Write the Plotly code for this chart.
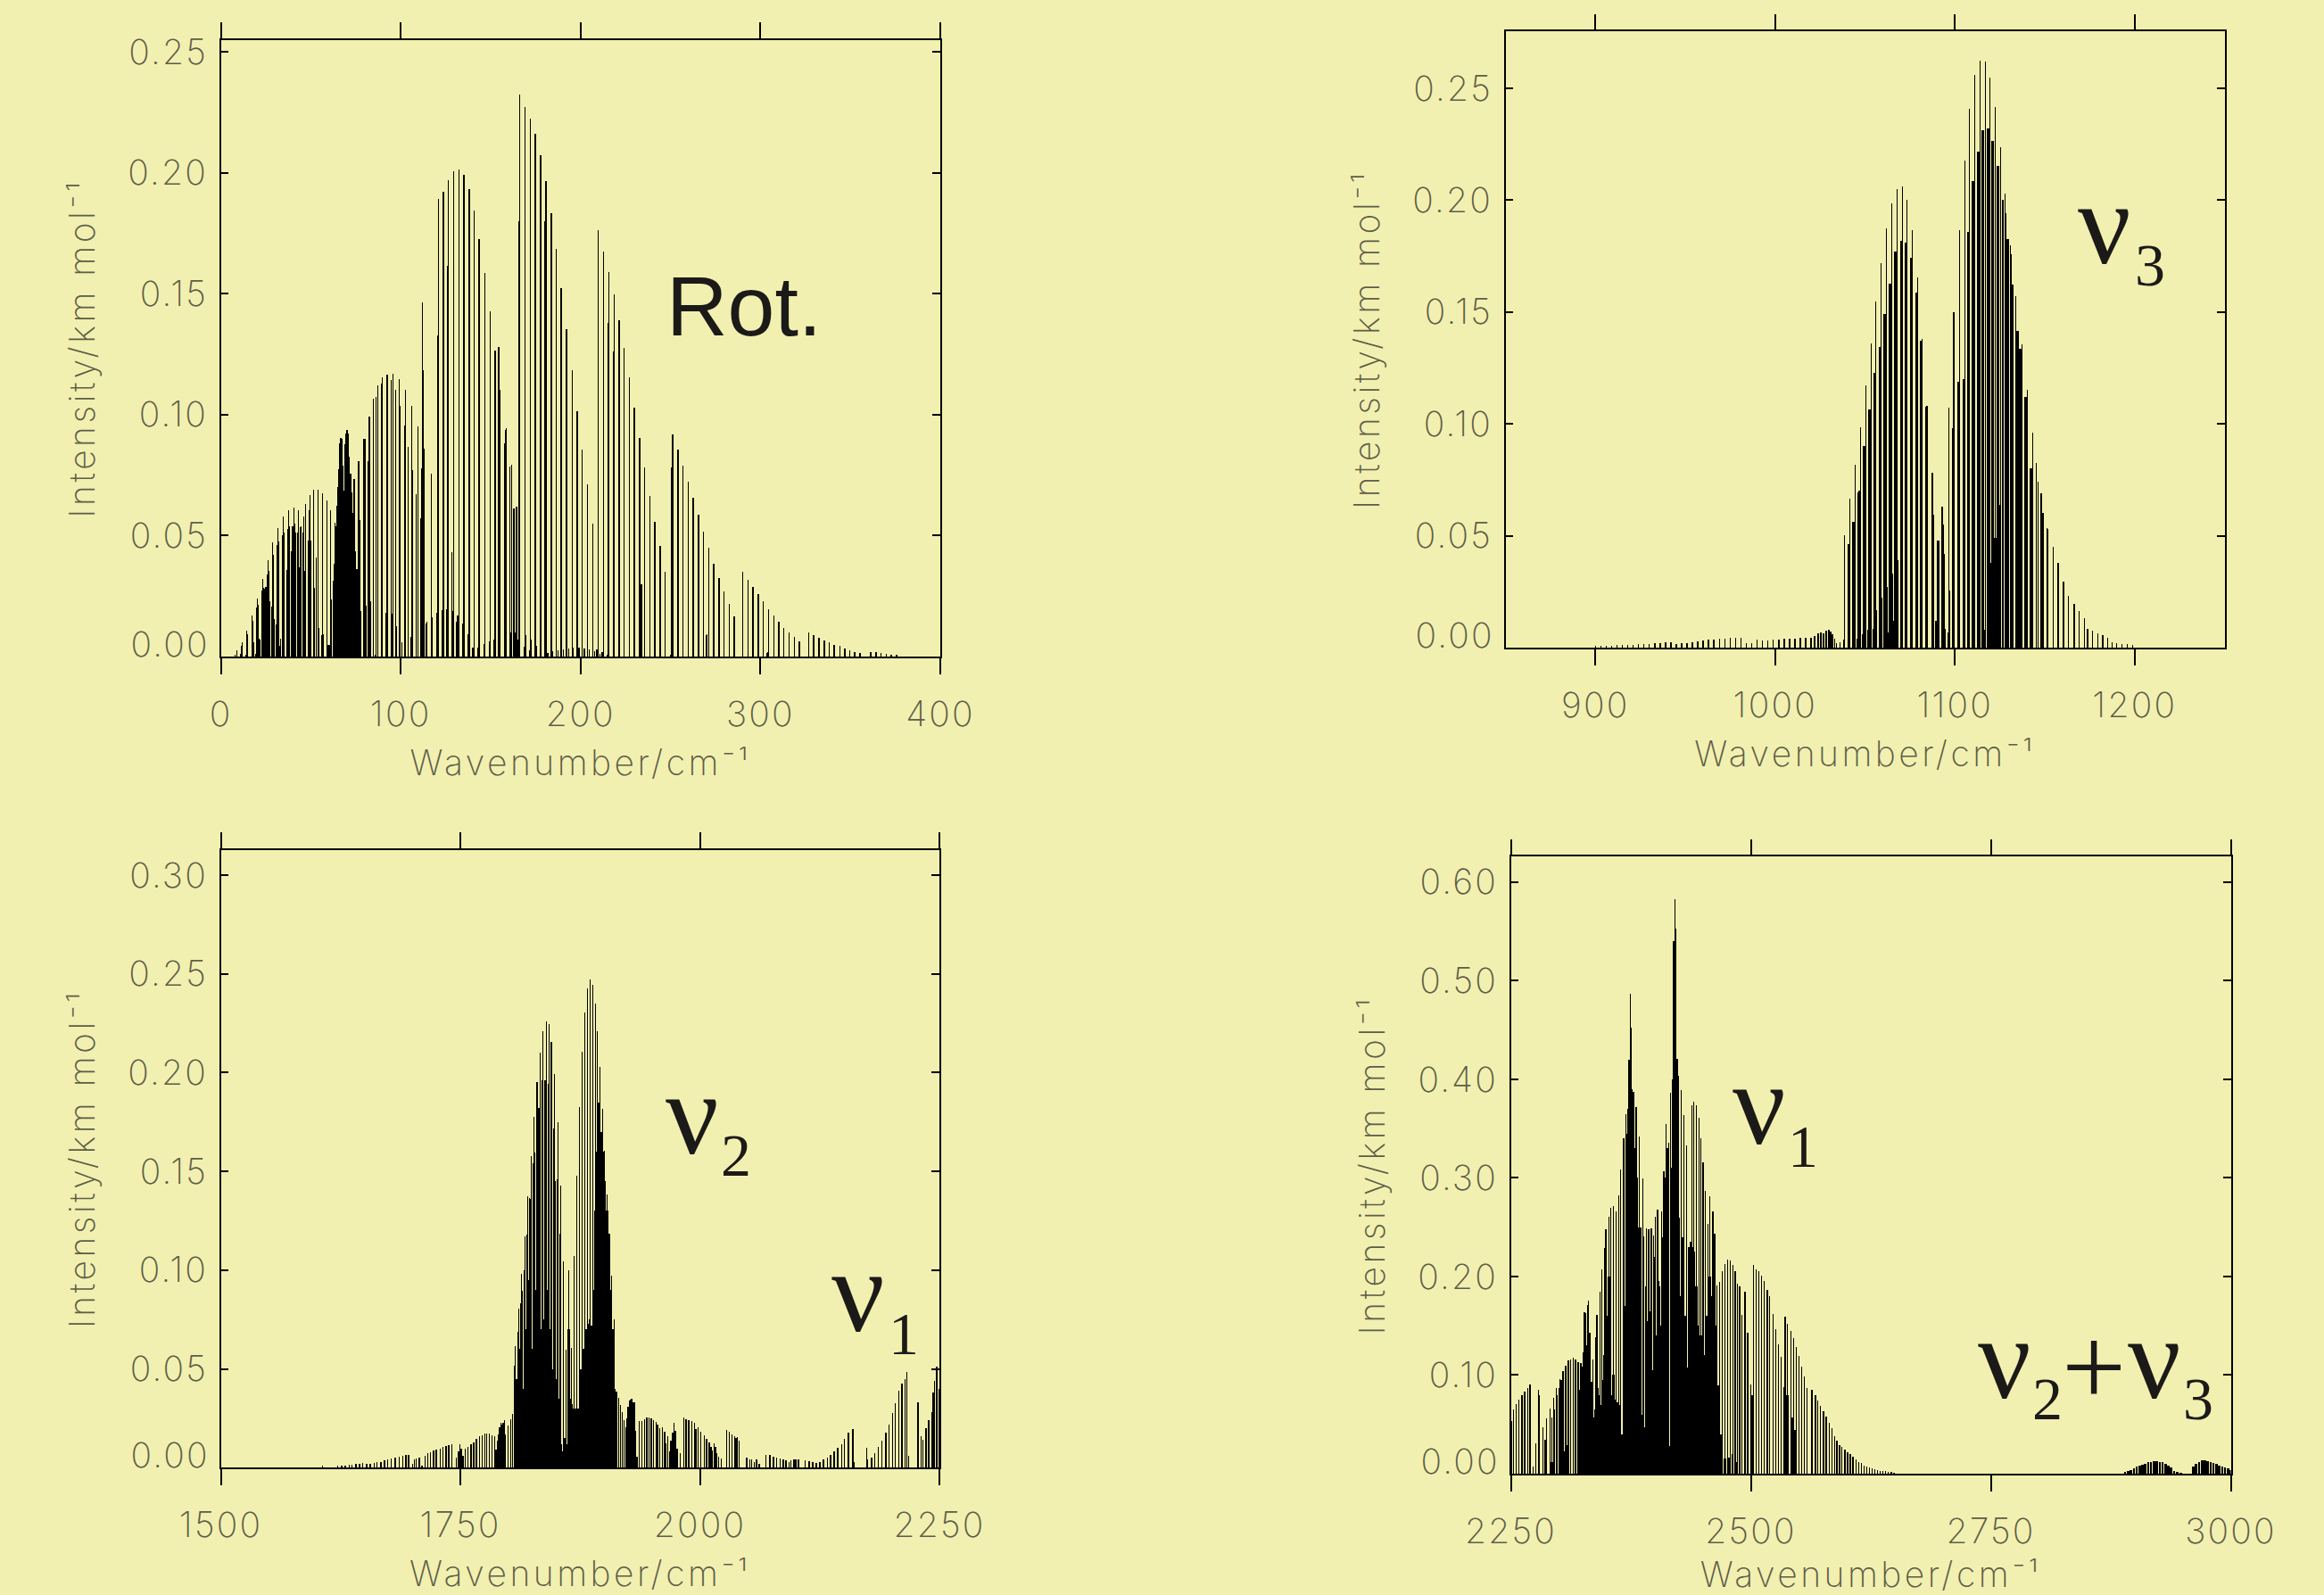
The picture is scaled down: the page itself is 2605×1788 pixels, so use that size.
import plotly.graph_objects as go

W, H = 2605, 1788
BG = "#f2f0b0"
INK = "#000000"
LABEL = "#5e5e48"
AXFAMILY = "Inter"
AXWEIGHT = 200

# ---------- Rotational band: (wavenumber, intensity) ----------
rot_low = [(7.9,.0009),(8.9,.0024),(10.9,.0012),(11.4,.0046),(11.9,.0058),(13.9,.0009),(14.4,.0107),(14.9,.0092),
 (17.3,.0168),(17.8,.0147),(18.3,.0058),(19.3,.0012),(19.8,.0202),(20.3,.0239),(20.8,.0214),(21.3,.0073),(21.8,.007),
 (22.8,.0273),(23.3,.0322),(23.8,.0285),(24.3,.028),(24.8,.0289),(25.3,.0289),(25.8,.0341),(26.3,.0398),(26.8,.0354),(27.3,.0227),
 (28.3,.0207),(28.7,.0472),(29.2,.0421),(29.7,.0155),(30.7,.0132),(31.2,.0462),(31.7,.053),(32.2,.0476),(32.7,.0043),(33.2,.0073),
 (34.2,.0502),(34.7,.0579),(35.2,.0514),(36.7,.0357),(37.2,.0528),(37.7,.0605),(38.2,.054),(39.2,.0435),(39.8,.0539),(40.3,.011),
 (40.6,.0617),(41.1,.0548),(41.6,.0513),(42.6,.0514),(43.1,.0605),(43.6,.037),(44.1,.0536),(44.6,.054),(45.6,.0513),(46.1,.0579),
 (46.6,.0354),(47.1,.0629),(48.6,.0479),(49.1,.0605),(49.6,.0667),(50.1,.0479),(51.5,.069),(52,.0283),(53,.041),(54,.069),(54.5,.0119),
 (56,.0089),(56.5,.0675),(56.8,.0092),(59,.0646),(59.5,.0049),(60,.0049),(60.5,.0049),(61,.0605),(61.5,.0236)]
rot_block = [(62.6,.0314),(63.1,.0384),(63.6,.0553),(64.1,.054),(64.6,.0622),(65.1,.0701),(65.6,.0775),(66.1,.0882),(66.6,.0905),
 (67.1,.09),(67.6,.079),(68.1,.0683),(68.6,.0686),(69.1,.0877),(69.6,.0923),(70.1,.0937),(70.6,.0923),(71.1,.0827),(71.6,.0132),
 (72.1,.0755),(72.6,.0678),(73.1,.0594),(73.6,.0479),(74.1,.0735),(74.6,.0435),(75.1,.0162),(75.6,.0361),(76.1,.0276),(76.7,.0808),
 (77.0,.0566),(77.3,.0187),(77.8,.0187)]
rot_mid = [(79.5,.09),(80,.09),(80.5,.021),(80.9,.021),(82.1,.0808),(82.6,.0992),(83.1,.0227),(84.8,.1066),(85.7,.0009),(86.2,.1072),
 (87.2,.1122),(89.2,.113),(89.7,.1156),(91.7,.0181),(92.3,.1164),(92.8,.1164),(94.8,.1142),(95.3,.0176),(95.7,.117),(97.1,.1102),
 (97.6,.0126),(99.1,.1148),(99.6,.1038),(100.6,.0058),(102.1,.0954),(102.6,.1102),(104.1,.0868),(105.6,.0081),(106.1,.1038),
 (106.6,.0772),(108.5,.0671),(109.5,.0952),(111,.0571),(111.5,.0778),(112,.1464),(112.5,.1184),(113,.086),(114.2,.0135),(114.5,.0142),
 (117,.0755),(117.5,.0162),(119.9,.0181),(120.6,.1329)]
rot_tall_a = [(121.1,.1892),(123.0,.0191),(123.4,.149),(123.7,.1921),(125.7,.0196),(126.2,.1615),(126.5,.1969),(128.5,.0433),(128.9,.0188),
 (129.4,.2006),(131.3,.0145),(131.8,.017),(132.3,.2012),(134.5,.0135),(135.1,.199),(137.3,.0092),(137.8,.0092),(138.1,.1931),(140.1,.0038),
 (140.9,.1842),(143.1,.0038),(143.7,.1724),(146.2,.0051),(146.7,.1585),(149.2,.0063),(149.7,.1428),(151.8,.0069),(152.5,.1265),
 (154.6,.128),(155,.1102),(157.6,.0882),(158.1,.0938),(158.6,.0945),(160.7,.0785),(160.9,.0101),(161.6,.0793),(163,.0612),(163.6,.0101),
 (164.5,.062),(165.5,.0069)]
rot_tall_b = [(166.0,.18),(166.2,.2324),(168.7,.004),(169.2,.227),(169.3,.0089),(171.6,.0024),(172.1,.2223),(172.5,.0069),(174.6,.0017),
 (174.9,.2159),(175.3,.0043),(177.8,.0028),(177.9,.2073),(180.4,.18),(180.7,.1966),(181.7,.0015),(183.5,.165),(183.7,.1834),(184.5,.0021),(186.5,.1686),
 (187.5,.0026),(189.3,.1523),(190.5,.0028),(192.3,.1352),(193.5,.0032),(195.3,.1183),(195.4,.0735),(195.9,.0037),(198.1,.1015),(198.2,.0031),
 (199.2,.0037),(200.9,.0857),(202,.0032),(203.9,.0712),(204.9,.0028),(206.7,.055),(207.8,.0023),(209.1,.0031)]
rot_tall_c = [(209.8,.1761),(210.8,.0012),(212.1,.002),(212.8,.1675),(215.1,.0009),(215.5,.138),(215.8,.1588),(218.3,.126),(218.6,.1496),(221.2,.112),(221.4,.139),
 (224.3,.1275),(227.2,.1156),(230,.103),(232.5,.084),(232.9,.0905),(233.3,.0273),(233.9,.03),(235.5,.0729),(235.7,.0781),(238.6,.0664),(241.4,.0556),
 (244.3,.0458),(247.1,.0349),(250.1,.0008)]
rot_tall_d = [(251.1,.0919),(250.8,.078),(254.1,.0854),(253.9,.074),(256.9,.079),(259.9,.0724),(262.7,.0655),(265.6,.0586),(268.4,.0517),(269.7,.0089),
 (270.2,.0092),(271.3,.0449),(274.1,.0384),(277,.0325),(279.8,.0268),(282.6,.0217),(285.5,.0165)]
rot_tail = [(290.1,.0349),(293,.0317),(295.9,.0288),(298.8,.0259),(301.6,.0227),(303.6,.0015),(304.3,.002),(304.5,.0197),(307.4,.0171),(310.2,.0144),
 (313,.0119),(315.9,.0098),(318.8,.008),(321.6,.0061),(326.8,.0098),(329.6,.0089),(332.5,.0078),(335.4,.0067),(338.3,.0058),(341.1,.0049),
 (344.1,.0043),(346.9,.0032),(349.7,.0024),(352.5,.002),(355.3,.0014),(361.4,.002),(364.3,.0017),(367.1,.0014),(369.9,.0012),(372.8,.0009),(375.7,.0008)]

# ---------- nu3 band ----------
nu3_weak = [(900,.0006),(903,.0007),(906,.0008),(909,.0009),(912,.001),(915,.0011),(918,.0012),(921,.0013),(924,.0015),(927,.0016),
 (930,.0017),(933,.0019),(936,.002),(939,.0022),(942,.0023),(945,.0017),(948,.0018),(951,.002),(954,.0022),(957,.0026),(960,.0033),
 (963,.0034),(966,.0036),(969,.0038),(972,.004),(975,.0042),(978,.0045),(981,.0045),(984,.0018),(987,.002),(990,.0035),(993,.003),
 (996,.0032),(999,.0034),(1002,.0036),(1005,.0038),(1008,.004),(1011,.004),(1014,.0042),(1017,.0042),(1020,.0045),(1022,.005),
 (1024,.0062),(1025.5,.0068),(1027,.0065),(1028.5,.0075),(1030,.0078),(1031,.007),(1032,.006),(1033,.004),(1034,.002),(1036,.0025),(1038,.0035)]
nu3_p = [(1038.5,.0501),(1041.5,.0664),(1044.5,.0816),(1047.4,.0986),(1050.4,.1171),(1053.4,.1359),(1055.9,.1546),(1058.9,.172),
 (1061.8,.1873),(1064.8,.1985),(1067.8,.2051),(1070.8,.2059),(1073.2,.2),(1076.2,.1864),(1079.2,.1653),(1081.7,.138),(1084.5,.1082),
 (1087.5,.078),(1090.5,.0477)]
nu3_p2 = [(1041,.0463),(1044,.0564),(1047,.07),(1049.4,.0899),(1052.4,.1063),(1055.4,.1228),(1058.2,.1345),(1060.8,.1492),(1063.8,.1625),
 (1067,.1769),(1070.1,.1817),(1072.7,.1809),(1075.7,.1743),(1078.5,.1587),(1081.4,.1371),(1084.2,.1077),(1043.5,.0564),(1046.4,.0695),(1052.9,.0501),
 (1046,.004),(1049,.006),(1052,.008),(1055,.0085)]
nu3_low = [(1056.4,.0169),(1059.2,.0225),(1061.3,.0048),(1062.5,.0273),(1063,.0069),(1064.6,.01),(1065.3,.0329),(1066,.0118),(1067.6,.0135),(1068.4,.039),
 (1087.8,.01),(1088.1,.0593),(1089.5,.0118),(1090.3,.047),(1090.9,.0477),(1091.1,.0152),(1092.8,.0135),(1092.9,.0631),(1093.4,.055),(1094.1,.042),
 (1094.4,.0083),(1096.1,.0066),(1096.6,.1072),(1096.9,.0256)]
nu3_r = [(1099.5,.1497),(1102.5,.1867),(1105.5,.2175),(1108,.2407),(1111,.2559),(1113.9,.2625),(1116.9,.2621),(1119.4,.2547),(1122.4,.2414),
 (1125.4,.2236),(1127.8,.2028),(1130.8,.1798),(1133.8,.157),(1137.3,.1354),(1140.2,.1152),(1143.2,.096),(1145.2,.0826),(1146.2,.0743),
 (1147.9,.0688),(1149,.0602),(1151.2,.0536),(1151.7,.0529),(1154.6,.0451),(1157.4,.0377),(1160.4,.0294),(1163.2,.023),(1166.4,.0197),
 (1169.2,.0164),(1172,.013),(1173.7,.0083),(1176.6,.0076),(1179.6,.0062),(1182.3,.0054),(1185.1,.0043),(1187.4,.0022),(1190,.0019),
 (1193,.0017),(1195.8,.0014),(1199,.001)]
nu3_r2 = [(1099,.0982),(1101.9,.1186),(1104.8,.1198),(1107.3,.1859),(1110.1,.2085),(1113.1,.2218),(1115.6,.2313),(1118.4,.2322),(1120.9,.2265),
 (1123.9,.2154),(1126.7,.2),(1128.2,.1942),(1129.3,.1824),(1131.1,.176),(1132,.1622),(1134.8,.1414),(1136.3,.1336),(1139.3,.112),(1142.4,.08),
 (1116.8,.008),(1120,.0377),(1122.5,.0489),(1125,.0636)]

# ---------- nu2 band and the start of nu1 ----------
nu2_weak = [(1606,.0008),(1622,.0008),(1626,.001),(1630,.0012),(1634,.0014),(1637,.0016),(1641,.0018),(1645,.002),(1648,.0022),(1652,.0018),
 (1656,.0018),(1660,.0025),(1663,.0027),(1667,.003),(1671,.0036),(1674,.0042),(1678,.0048),(1682,.0052),(1686,.0055),(1690,.0058),
 (1693,.0062),(1696,.0065),(1700,.002),(1702,.004),(1704,.0048),(1707,.0052),(1710,.0012),(1713,.006),(1716,.0072),(1719,.0078),
 (1722,.0085),(1725,.0092),(1729,.0098),(1732,.0105),(1735,.011),(1738,.0115),(1741,.012),(1746,.005),(1748,.008),(1749.5,.012),
 (1751,.0095),(1753,.006),(1755,.0095),(1758,.0105),(1761,.012),(1764,.0129),(1766.7,.0145),(1769.8,.0158),(1772.6,.0165),(1775.4,.0171),
 (1777.3,.0174),(1780.4,.0173),(1783.2,.0165),(1786,.0158),(1787.2,.0092),(1788.5,.0137),(1789.7,.0169),(1790.9,.0202),(1792.2,.0226),
 (1793.4,.0218),(1794.7,.0226),(1795.9,.024),(1797.1,.0169),(1799.6,.0213),(1802.4,.0245),(1804.3,.0274)]
nu2_p = [(1807.4,.0615),(1811.1,.0803),(1813.9,.0981),(1817.6,.1171),(1820.4,.1374),(1824.1,.1578),(1826.9,.1774),(1830.3,.1952),(1833.1,.2102),
 (1836.2,.2208),(1839.7,.2258),(1842.5,.2245),(1845.2,.2157),(1848.4,.1992),(1851.8,.1748),(1854.9,.1428),(1857.7,.1044)]
nu2_r = [(1860.1,.0597),(1862.9,.0998),(1866,.0605),(1868.5,.1073),(1871.3,.1479),(1874.1,.1826),(1876.9,.2105),(1879.7,.2303),(1882.5,.2428),
 (1885.3,.2471),(1888.1,.2447),(1890.9,.235),(1893,.2208),(1895.8,.2029),(1898.6,.1819),(1900.5,.1605),(1903,.1384),(1905.5,.1186),
 (1907.6,.0973),(1910.4,.075)]
nu2_second = [(1806.5,.0516),(1810.2,.0686),(1812.7,.0831),(1814.8,.0895),(1816.7,.1),(1819.5,.1178),(1822,.1363),(1823.2,.136),(1825.7,.154),
 (1827.9,.1597),(1829.4,.1694),(1831.9,.1823),(1835,.196),(1837.8,.196),(1839,.196),(1841.5,.1944),(1844.3,.175),(1847.1,.1718),(1849.3,.1452),
 (1850.8,.146),(1853.9,.1186)]
nu2_dense = [(1807,.02),(1809,.045),(1811,.06),(1813,.055),(1815,.04),(1817,.045),(1819,.07),(1821,.095),(1823,.075),(1825,.06),(1827,.065),
 (1829,.09),(1831,.12),(1833,.10),(1835,.07),(1837,.075),(1839,.068),(1841,.09),(1843,.07),(1845,.075),(1847,.05),(1849,.045),(1851,.04),
 (1853,.035),(1855,.012),(1857,.008),(1859,.015),(1861,.012),(1863,.07),(1864.5,.035),(1866.5,.032),(1868.5,.03),(1870.5,.03),(1873,.03),
 (1875,.05),(1877,.035),(1879,.06),(1881,.07),(1883,.073),(1885,.075),(1887,.072),(1889,.09),(1891,.13),(1893,.16),(1895,.185),(1897,.17),
 (1899,.16),(1901,.145),(1903,.13),(1905,.11),(1907,.09),(1909,.07),(1911,.04)]
nu2_after = [(1912.9,.0386),(1915.1,.0355),(1916.9,.0315),(1918.8,.0279),(1920.7,.0242),(1922.5,.0202),(1923.8,.025),(1925,.0306),(1926.3,.0339),
 (1927.5,.0344),(1928.7,.035),(1930,.0331),(1931.5,.0331),(1932.8,.0185),(1934.3,.0056),(1936.5,.0234),(1939.3,.0237),(1942.1,.0245),
 (1944.6,.0252),(1946.7,.0253),(1949.2,.025),(1951.4,.0242),(1954.2,.023),(1956,.0218),(1958,.0198),(1960.7,.0202),(1963.2,.0182),
 (1964.7,.0121),(1966.3,.0161),(1968.2,.0081),(1969.7,.0137),(1971.6,.0177),(1973.1,.0226),(1974.4,.0185),(1976.2,.0097),(1979.3,.0073),
 (1983.1,.0253),(1985.5,.0245),(1988.3,.0242),(1991.4,.0237),(1994.2,.0227),(1995.8,.0194),(1998,.0202),(2000.7,.0182),(2004.5,.0165),
 (2007,.0145),(2009.7,.0127),(2011.6,.0105),(2013.2,.0089),(2015,.0121),(2016.3,.0105),(2017.5,.0073),(2019.4,.0056),(2022.2,.0048)]
nu2_tail = [(2027.7,.019),(2030.5,.0181),(2033.3,.0169),(2036.1,.0158),(2037.7,.015),(2038.9,.0153),(2040.8,.0137),(2049,.005),(2052,.0043),(2054,.004),
 (2057,.003),(2059,.004),(2062,.002),(2069,.0065),(2073,.0062),(2077,.0057),(2080,.0052),(2084,.0045),(2087,.004),(2090,.0035),(2093,.003),
 (2095,.0035),(2098,.004),(2100,.0042),(2103,.0043),(2110,.0035),(2114,.0033),(2118,.0028),(2121.5,.0025),(2125,.003),(2129,.004),(2133,.005),
 (2136.5,.0065),(2140,.008),(2144,.01),(2148,.012),(2151,.0145),(2155,.0175),(2159.5,.0195),(2161,.003)]
nu1_start = [(2174,.01),(2175,.004),(2179,.005),(2182.5,.0075),(2186,.0105),(2190,.0138),(2194,.0175),(2197.5,.022),(2201,.0275),(2204,.0325),
 (2207.5,.0388),(2211,.0425),(2214,.045),(2216,.0485),(2218,.006),(2227.5,.033),(2231,.016),(2233,.014),(2236,.02),(2239,.024),(2242,.028),
 (2243.5,.038),(2245,.044),(2247,.051),(2249.5,.04)]

# ---------- nu1 band and nu2+nu3 ----------
nu1_left = [(2250.7,.0533),(2252.9,.0648),(2255.7,.0705),(2258.5,.0751),(2261.6,.08),(2264.4,.0831),(2267.5,.0865),(2270.2,.0907),(2273,.0076),
 (2275.8,.0312),(2278.9,.0846),(2279.8,.08),(2283.3,.0472),(2286,.0343),(2287.3,.0564),(2290.7,.0663),(2292.9,.0572),(2294.7,.077),(2295.7,.0648),
 (2297.5,.0869),(2298.4,.0792),(2300,.0865),(2301.2,.096),(2302.5,.095),(2304.3,.1036),(2306.5,.1097),(2307.4,.1097),(2309.9,.1151),(2312.4,.1162),
 (2314.9,.1173),(2317.6,.1154),(2320.1,.1128),(2322.9,.1124),(2324.2,.1086),(2325.7,.1227),(2326.9,.1638),(2328.2,.163),(2329.7,.1714),
 (2331,.1753),(2332.2,.1429),(2334.1,.0933),(2335.3,.1162),(2336.5,.0572),(2338.4,.1383),(2339.9,.1608),(2341.2,.0869)]
nu1_p = [(2342.7,.1848),(2344.6,.2076),(2347.4,.2286),(2349.2,.2477),(2352,.261),(2354.2,.2694),(2356.7,.2717),(2359.5,.2659),(2362.3,.2819),
 (2364.4,.3086),(2367.5,.3399),(2369.7,.3646),(2371.2,.3448),(2372.8,.3894),(2374.3,.4869),(2375.3,.4526),(2378,.3875),(2380.8,.3715),
 (2382.1,.2877),(2383.6,.3421),(2387.4,.2995),(2388.6,.2408),(2391.1,.2488),(2393.6,.2477),(2396.6,.2484),(2398.5,.2419),(2400.7,.261),
 (2403.1,.2678),(2407.2,.2659)]
nu1_r = [(2409.3,.3067),(2411.8,.3543),(2414.3,.3353),(2416.5,.3867),(2418,.3543),(2419.6,.5353),(2420.8,.5822),(2422,.5525),(2423.3,.421),
 (2424.8,.4039),(2427.3,.3886),(2430.1,.3639),(2432.9,.3326),(2438.5,.3734),(2440.3,.3776),(2443.1,.3734),(2445.9,.3608),(2448.1,.3402),
 (2450.5,.3155),(2452.4,.2865),(2455.5,.2534),(2457.4,.2812),(2460.5,.2656),(2462.3,.2438)]
nu1_hot = [(2464.5,.1905),(2467.6,.1943),(2470.4,.205),(2473.2,.2126),(2475.9,.2172),(2478.7,.2164),(2481.2,.2115),(2483.7,.205),(2485.9,.1928),
 (2488.4,.1897),(2490.8,.1608),(2493.9,.1848),(2496.7,.1429),(2500.1,.0907),(2502.6,.2115),(2505.4,.2069),(2508.2,.205),(2511.3,.2012),
 (2514.1,.1951),(2517.2,.1867),(2519.6,.1798),(2523.4,.1619),(2525.8,.1467),(2528.6,.1314),(2531.7,.1181),(2535.7,.1589),(2538.2,.1516),
 (2541.6,.1448),(2544.4,.1379),(2547.2,.1284),(2550.3,.1193),(2553.1,.1086),(2555.9,.0983),(2558.7,.0869)]
nu1_tail = [(2563.6,.085),(2567.4,.08),(2569.5,.0743),(2572.6,.0686),(2575.7,.0629),(2578.5,.0579),(2581.6,.0514),(2584.4,.0457),(2587.2,.0381),
 (2589.7,.0331),(2592.4,.0293),(2594.9,.0267),(2598,.0248),(2600.8,.0221),(2603.6,.0198),(2606.4,.0171),(2609.5,.0145),(2612.3,.0122),
 (2615.4,.0107),(2617.8,.0084),(2620.6,.0076),(2623.4,.0065),(2626.2,.0053),(2629,.0046),(2631.8,.0038),(2634.6,.003),(2637.4,.0027),
 (2640.1,.0023),(2643.2,.0019),(2646.3,.0015),(2649.1,.0011)]
nu1_dense = [(2293,.012),(2297.8,.02),(2302.5,.01),(2305.6,.023),(2308.7,.029),(2321,.06),(2322.6,.085),(2324.2,.10),(2325.7,.12),(2327.3,.135),
 (2328.8,.13),(2330.3,.14),(2331.9,.105),(2333.4,.08),(2335,.05),(2336.5,.012),(2338.1,.065),(2339.6,.05),(2341.2,.08),(2342.7,.05),
 (2344.3,.07),(2345.8,.095),(2347.4,.12),(2348.9,.13),(2350.5,.16),(2352,.20),(2353.6,.175),(2355.1,.08),(2356.7,.10),(2358.2,.075),
 (2361.3,.072),(2363.8,.07),(2366,.04),(2367.5,.12),(2369.1,.17),(2370.6,.33),(2372.2,.37),(2373.7,.42),(2375.3,.39),(2376.8,.33),(2378.4,.33),
 (2379.9,.32),(2381.5,.30),(2383,.25),(2384.6,.25),(2386.1,.033),(2387.7,.06),(2389.2,.047),(2390.8,.19),(2392.3,.155),(2393.9,.165),(2395.4,.10),
 (2397,.105),(2398.5,.041),(2400.1,.22),(2401.6,.14),(2403.1,.195),(2404.7,.19),(2406.2,.15),(2407.8,.24),(2409.3,.27),(2410.9,.30),(2412.4,.33),
 (2414,.30),(2415.5,.028),(2417.1,.31),(2418.6,.40),(2420.2,.54),(2421.7,.42),(2423.3,.42),(2424.8,.26),(2426.4,.18),(2427.9,.17),(2429.5,.24),
 (2431,.16),(2432.6,.155),(2434.1,.108),(2435.7,.23),(2437.2,.235),(2438.8,.23),(2440.3,.225),(2441.9,.17),(2443.4,.19),(2445,.15),(2446.5,.14),
 (2448.1,.14),(2449.6,.11),(2451.2,.12),(2452.7,.05),(2454.3,.16),(2455.8,.18),(2457.4,.20),(2458.9,.18),(2460.5,.16),(2462,.19),(2463.6,.15),
 (2465.1,.09),(2466.7,.09),(2468.2,.04),(2473,.015),(2477,.016),(2481,.02),(2485,.012),(2500.8,.08),(2502.4,.05),(2535,.0876),(2538,.08),(2542.5,.057),(2546.6,.044)]
combo_a = [(2890,.002),(2893,.003),(2896,.004),(2899,.005),(2902,.007),(2905,.008),(2908,.009),(2911,.01),(2914,.012),(2917,.012),(2920,.013),
 (2923,.013),(2926,.012),(2929,.012),(2932,.01),(2935,.008),(2938,.006),(2941,.003),(2944,.002),(2948,.001)]
combo_b = [(2961,.007),(2964,.01),(2967,.012),(2970,.014),(2973,.014),(2976,.013),(2979,.012),(2982,.011),(2985,.01),(2988,.008),(2991,.007),
 (2994,.006),(2997,.005),(3000,.004)]

# ---------- axis ticks ----------
x_ticks = [[0,100,200,300,400],[900,1000,1100,1200],[1500,1750,2000,2250],[2250,2500,2750,3000]]
y_ticks = [[.05,.10,.15,.20,.25],[.05,.10,.15,.20,.25],[.05,.10,.15,.20,.25,.30],[.10,.20,.30,.40,.50,.60]]
x_ranges = [[0,400],[850,1250],[1500,2250],[2250,3000]]
y_tops = [.2548,.2753,.3126,.6257]
x_title = "Wavenumber/cm⁻¹"
y_title = "Intensity/km mol⁻¹"

# panel frames in pixels: left, right, top, baseline
frames = [(247.5,1054,45,736),(1687.5,2493.5,35.4,726),(247.5,1053,953.2,1645.2),(1693.5,2500.5,960.4,1652)]

panels = [
 ([rot_low,rot_block,rot_mid,rot_tall_a,rot_tall_b,rot_tall_c,rot_tall_d,rot_tail],[]),
 ([nu3_weak,nu3_p,nu3_low,nu3_r],[nu3_p2,nu3_r2]),
 ([nu2_weak,nu2_p,nu2_r,nu2_second,nu2_after,nu2_tail,nu1_start],[nu2_dense]),
 ([nu1_left,nu1_p,nu1_r,nu1_hot,nu1_tail],[nu1_dense,combo_a,combo_b]),
]

def stick_path(groups):
    xs, ys = [], []
    for g in groups:
        for x, y in g:
            xs += [x, x, None]
            ys += [0, y, None]
    return xs, ys

fig = go.Figure()
layout = dict(width=W, height=H, margin=dict(l=0,r=0,t=0,b=0), paper_bgcolor=BG, plot_bgcolor=BG,
              showlegend=False, annotations=[], template="none")

def place(text, cx, cy, size, family, color="#1c1a18", anchor="center", weight=400):
    layout["annotations"].append(dict(text=text, x=cx/W, y=1-cy/H, xref="paper", yref="paper", showarrow=False,
        xanchor=anchor, yanchor="middle", font=dict(size=size, family=family, color=color, weight=weight)))

for i, (thin, thick) in enumerate(panels):
    n = "" if i == 0 else str(i+1)
    l, r, t, b = frames[i]
    ax_font = dict(family=AXFAMILY, weight=AXWEIGHT, size=39, color=LABEL)
    xs, ys = stick_path(thin)
    fig.add_trace(go.Scatter(x=xs, y=ys, mode="lines", line=dict(color=INK, width=1.5), xaxis="x"+n, yaxis="y"+n, hoverinfo="skip"))
    if thick:
        xs, ys = stick_path(thick)
        fig.add_trace(go.Scatter(x=xs, y=ys, mode="lines", line=dict(color=INK, width=2.6), xaxis="x"+n, yaxis="y"+n, hoverinfo="skip"))
    layout["xaxis"+n] = dict(domain=[l/W, r/W], range=x_ranges[i], anchor="y"+n, tickmode="array", tickvals=x_ticks[i],
        ticktext=[str(v) for v in x_ticks[i]], ticks="outside", ticklen=18, tickwidth=1.5, tickcolor=INK, showline=True, linecolor=INK,
        linewidth=1.5, mirror="ticks", showgrid=False, zeroline=False, automargin=False, ticklabelstandoff=11,
        tickfont=ax_font, title=dict(text=x_title, font=ax_font, standoff=20))
    yt = y_ticks[i]
    layout["yaxis"+n] = dict(domain=[1-b/H, 1-t/H], range=[0, y_tops[i]], anchor="x"+n, tickmode="array", tickvals=yt,
        ticktext=[f"{v:.2f}" for v in yt], ticks="inside", ticklen=9, tickwidth=1.5, tickcolor=INK, showline=True, linecolor=INK,
        linewidth=1.5, mirror="ticks", showgrid=False, zeroline=False, automargin=False, ticklabelstandoff=5,
        tickfont=ax_font, title=dict(text=y_title, font=ax_font, standoff=33))
    place("0.00", l-16, b-15, 39, AXFAMILY, LABEL, "right", AXWEIGHT)

SERIF = "Liberation Serif"
place("Rot.", 834, 343, 95, "Liberation Sans")
place("ν", 2359, 250, 132, SERIF); place("3", 2410, 297, 68, SERIF)
place("ν", 776, 1248, 132, SERIF); place("2", 825, 1295, 68, SERIF)
place("ν", 962, 1447, 132, SERIF); place("1", 1013, 1495, 68, SERIF)
place("ν", 1972, 1237, 132, SERIF); place("1", 2021, 1285, 68, SERIF)
place("ν", 2247, 1522, 132, SERIF); place("2", 2295, 1568, 68, SERIF)
place("+", 2347, 1532, 128, SERIF)
place("ν", 2415, 1522, 132, SERIF); place("3", 2464, 1568, 68, SERIF)

fig.update_layout(**layout)
page_script = """
document.body.style.margin='0';document.body.style.overflow='hidden';
document.querySelectorAll('.scatterlayer path').forEach(function(p){p.style.shapeRendering='crispEdges';});
document.querySelectorAll('[class$="tick"] text').forEach(function(t){t.style.letterSpacing='2.2px';});
document.querySelectorAll('text[class$="title"]').forEach(function(t){t.style.letterSpacing='3.5px';});
document.querySelectorAll('.annotation-text').forEach(function(t){if(t.textContent==='0.00'){t.style.letterSpacing='2.2px';}});
"""
fig.write_html("out.html", config=dict(displayModeBar=False), post_script=page_script)
